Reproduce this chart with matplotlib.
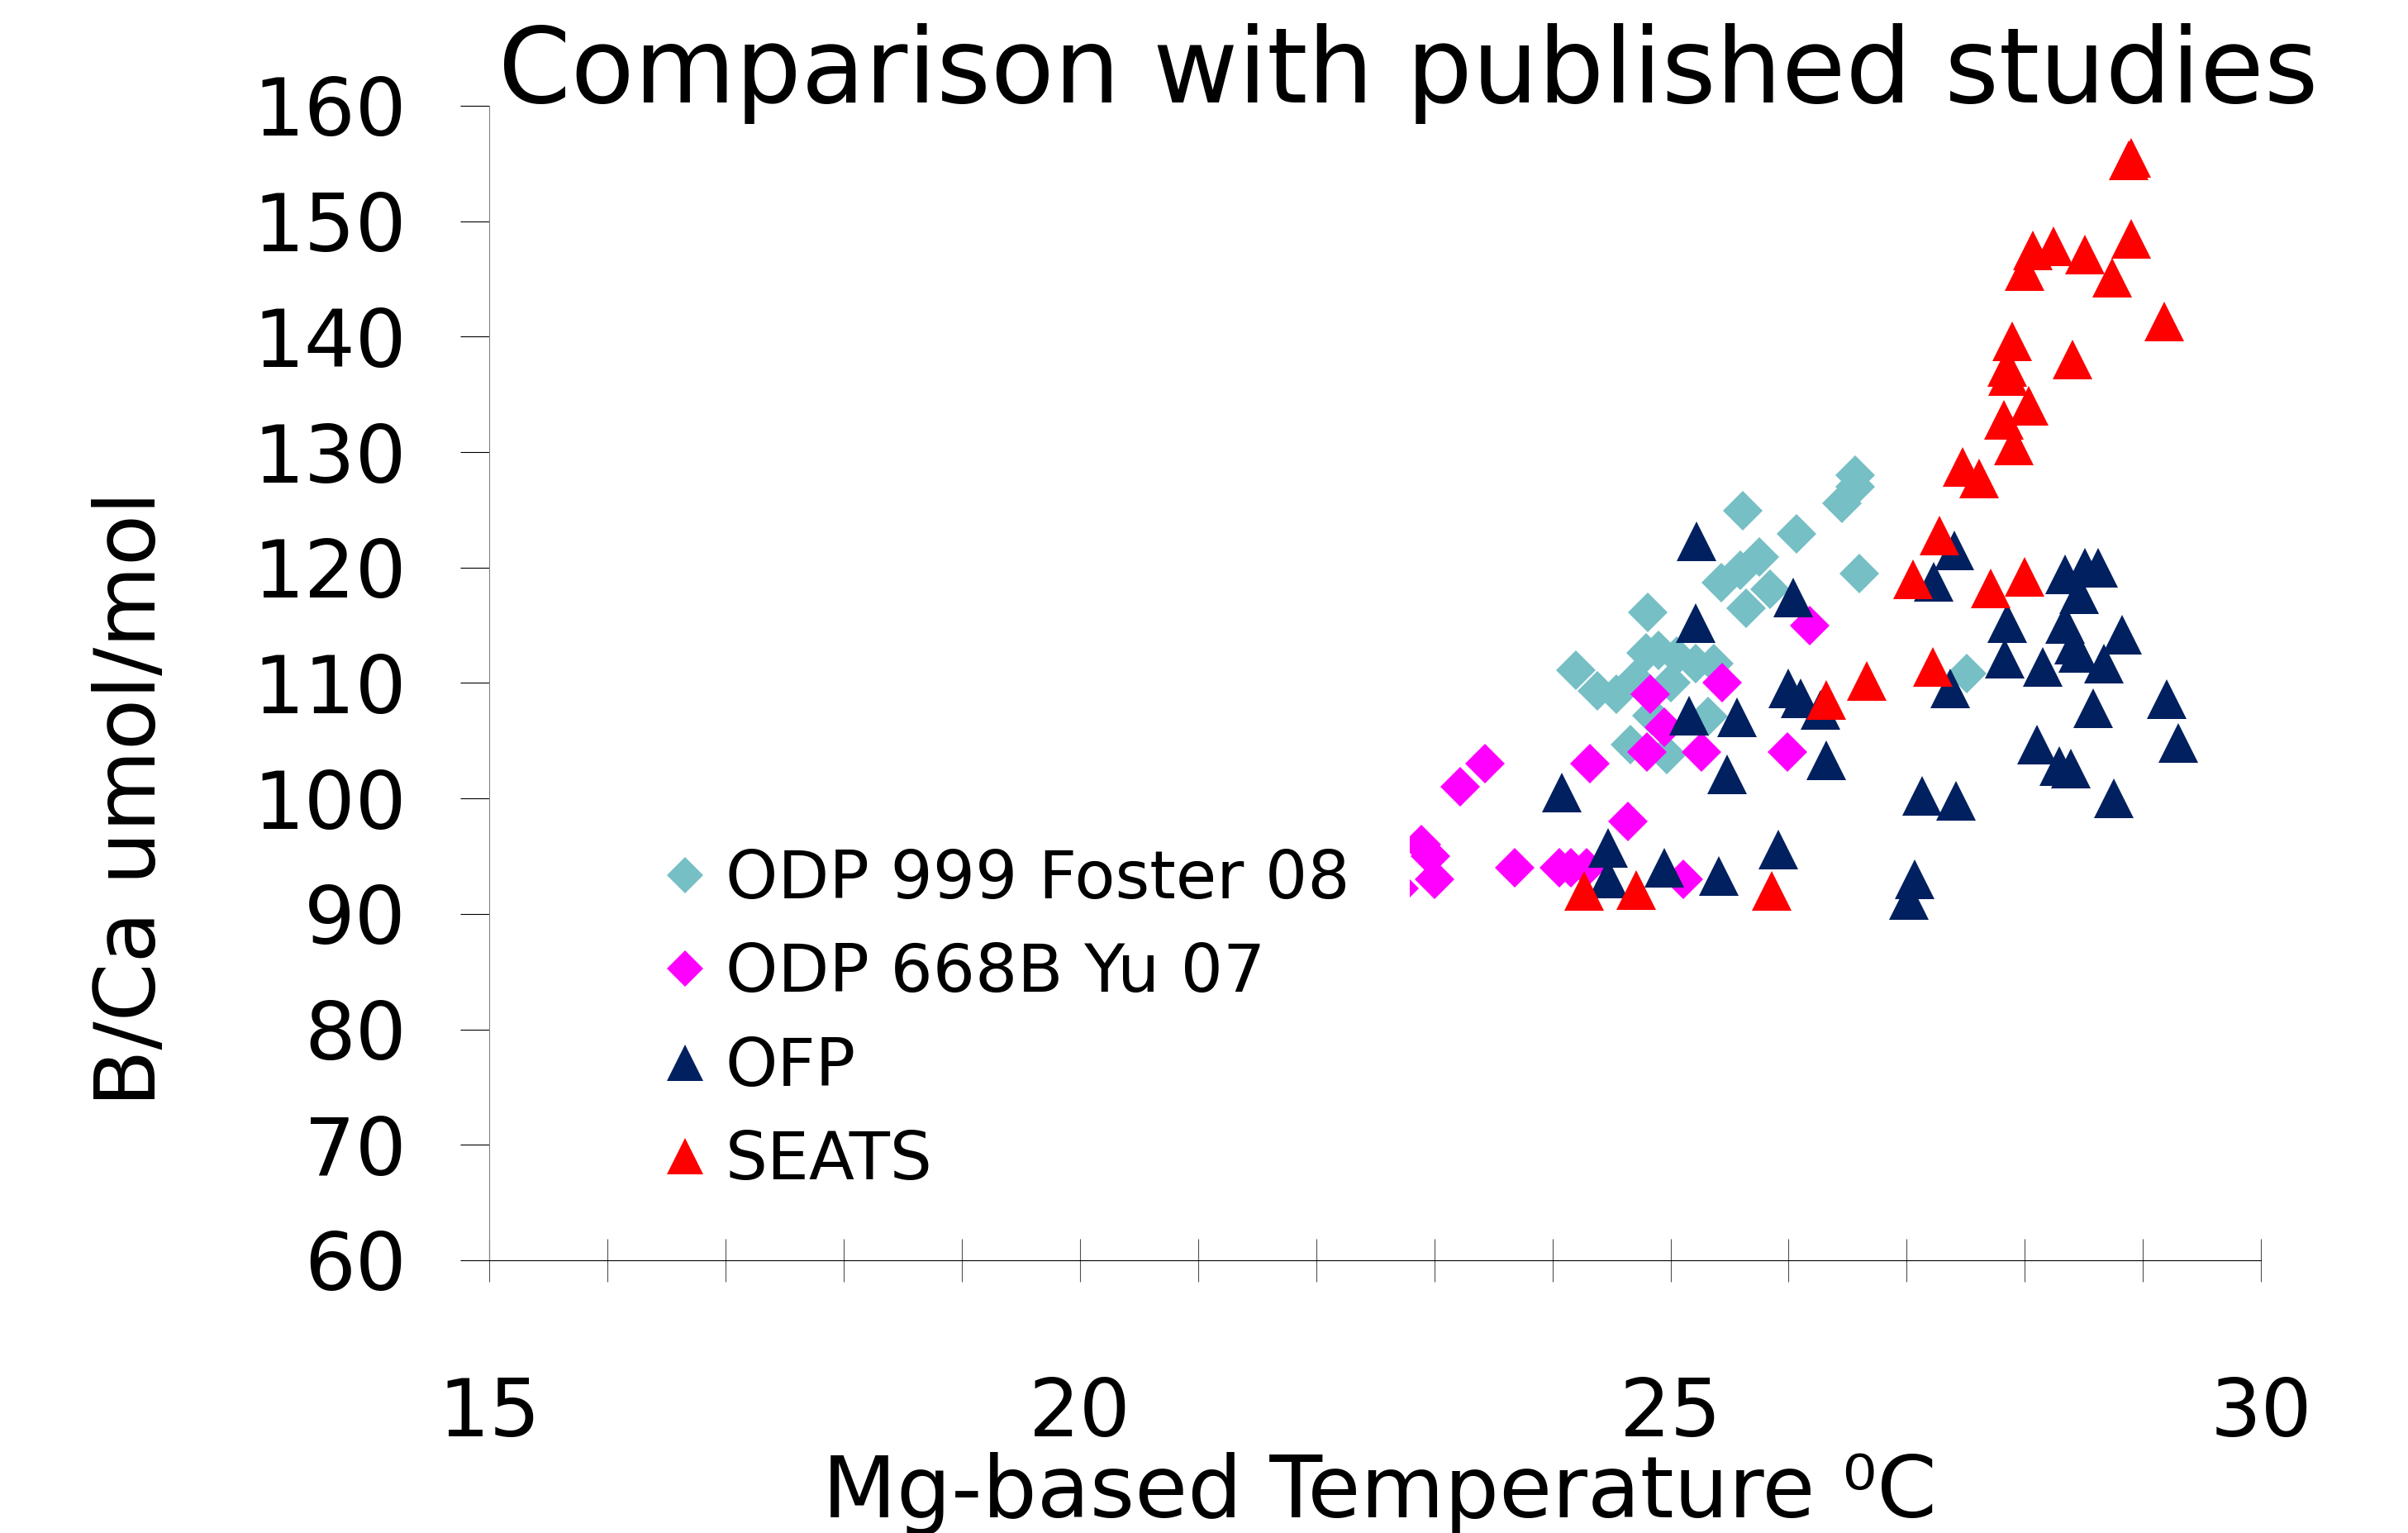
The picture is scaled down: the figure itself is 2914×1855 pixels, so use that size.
import matplotlib
matplotlib.use('Agg')
import matplotlib.pyplot as plt
from matplotlib.patches import Rectangle
from matplotlib.ticker import MultipleLocator

# data (Mg temperature degC, B/Ca umol/mol)
foster_t = [24.20, 24.38, 24.54, 24.66, 24.70, 24.79, 24.81, 24.84, 24.90, 24.97,
            25.00, 25.05, 25.21, 25.32, 25.37, 25.43, 25.59, 25.61, 25.64, 25.75,
            25.84, 26.07, 26.45, 26.56, 26.56, 26.60, 27.51]
foster_bca = [111.1, 109.3, 109.0, 104.7, 110.3, 112.6, 116.1, 107.2, 112.8, 103.8,
              110.0, 112.3, 111.7, 107.1, 111.7, 118.7, 119.8, 124.9, 116.5, 120.9,
              118.1, 122.9, 125.6, 127.0, 128.0, 119.5, 110.8]

yu_t = [22.70, 22.89, 22.97, 23.00, 23.22, 23.43, 23.68, 24.06, 24.16, 24.29,
        24.32, 24.64, 24.80, 24.83, 24.95, 25.11, 25.26, 25.44, 25.99, 26.18]
yu_bca = [92.2, 96.0, 95.0, 93.0, 101.0, 103.0, 94.0, 94.0, 94.0, 94.0,
          103.0, 98.0, 104.0, 109.0, 106.2, 93.0, 104.0, 110.0, 104.0, 115.0]

ofp_t = [24.08, 24.47, 24.47, 24.95, 25.16, 25.21, 25.22, 25.41, 25.48, 25.56,
         25.91, 26.00, 26.04, 26.10, 26.27, 26.32, 27.02, 27.07, 27.13, 27.23,
         27.37, 27.40, 27.42, 27.83, 27.85, 28.10, 28.15, 28.29, 28.34, 28.34,
         28.39, 28.42, 28.45, 28.46, 28.51, 28.58, 28.62, 28.67, 28.75, 28.82,
         29.20, 29.30]
ofp_bca = [100.5, 95.7, 93.1, 94.0, 107.2, 115.2, 122.3, 93.3, 102.1, 107.0,
           95.6, 109.5, 117.4, 108.7, 107.7, 103.3, 91.2, 93.0, 100.2, 118.8,
           109.5, 121.5, 99.8, 112.1, 115.2, 104.7, 111.4, 102.8, 119.4, 115.1,
           102.6, 113.3, 112.6, 117.7, 120.0, 107.8, 120.0, 111.7, 100.0, 114.2,
           108.6, 104.8]

seats_t = [24.27, 24.71, 25.86, 26.32, 26.66, 27.05, 27.22, 27.28, 27.47, 27.61,
           27.71, 27.82, 27.85, 27.86, 27.89, 27.91, 28.00, 28.00, 28.03, 28.07,
           28.24, 28.40, 28.51, 28.74, 28.88, 28.90, 28.90, 29.18]
seats_bca = [92.0, 92.1, 92.0, 108.5, 110.2, 119.0, 111.4, 122.8, 128.7, 127.7,
             118.2, 132.8, 137.4, 136.6, 139.6, 130.6, 119.2, 145.7, 134.0, 147.5,
             147.8, 138.0, 147.1, 145.1, 155.3, 155.5, 148.5, 141.3]

labels = ['ODP 999 Foster 08', 'ODP 668B Yu 07', 'OFP', 'SEATS']
colors = ['#75BFC5', '#FF00FF', '#002060', '#FF0000']

plt.rcParams['font.family'] = ['DejaVu Sans']

fig = plt.figure(figsize=(29.14, 18.55), dpi=100, facecolor='white')
ax = fig.add_axes([0.2032, 0.1779, 0.7358, 0.7531])

# one plot call per series, drawn in legend order
ax.plot(foster_t, foster_bca, 'D', color=colors[0], ms=24.5, mew=0, label=labels[0])
yu_line, = ax.plot(yu_t, yu_bca, 'D', color=colors[1], ms=24.5, mew=0, label=labels[1])
ax.plot(ofp_t, ofp_bca, '^', color=colors[2], ms=34.5, mew=0, label=labels[2])
ax.plot(seats_t, seats_bca, '^', color=colors[3], ms=34.5, mew=0, label=labels[3])

ax.set_xlim(15, 30)
ax.set_ylim(60, 160)

# the leftmost Yu 07 diamonds are cut off on their left side in the original
yu_clip = Rectangle((22.79, 60), 30 - 22.79, 100, transform=ax.transData)
yu_line.set_clip_path(yu_clip)

# axis lines
ax.spines['top'].set_visible(False)
ax.spines['right'].set_visible(False)
ax.spines['left'].set_color('#808080')
ax.spines['left'].set_linewidth(0.8)
ax.spines['bottom'].set_color('black')
ax.spines['bottom'].set_linewidth(0.8)

# ticks: x crosses the axis, y outside
ax.xaxis.set_major_locator(MultipleLocator(5))
ax.xaxis.set_minor_locator(MultipleLocator(1))
ax.yaxis.set_major_locator(MultipleLocator(10))
ax.tick_params(axis='x', which='both', direction='inout', length=37, width=0.8,
               color='#505050')
ax.tick_params(axis='x', which='major', labelsize=70, pad=82)
ax.tick_params(axis='y', which='major', direction='out', length=25, width=0.8,
               color='black', labelsize=70, pad=47)

fig.text(0.5848, 0.9332, 'Comparison with published studies', fontsize=90.5,
         ha='center', va='baseline')
fig.text(0.573, 0.0102, 'Mg-based Temperature \u2070C', fontsize=75,
         ha='center', va='baseline')
fig.text(0.055, 0.479, 'B/Ca umol/mol', fontsize=73, rotation=90,
         ha='center', va='center')

ax.legend(loc='upper left', bbox_to_anchor=(0.2735, 0.4470),
          bbox_transform=fig.transFigure, frameon=False, fontsize=58,
          handlelength=0.8, handletextpad=0.2, labelspacing=0.44,
          borderpad=0, borderaxespad=0, markerscale=0.9, numpoints=1)

fig.savefig('out.png', dpi=100, facecolor='white')
